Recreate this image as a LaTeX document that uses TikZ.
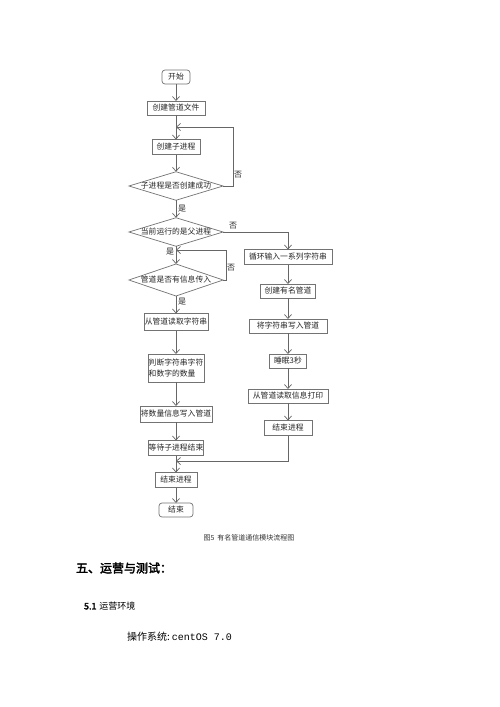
\documentclass[tikz,border=0pt]{standalone}
\usepackage{fontspec}
\setmainfont{Liberation Serif}
\newfontfamily\cjk{Noto Sans CJK SC}[AutoFakeBold=2.5]
\newfontfamily\monof{Liberation Mono}
\usetikzlibrary{arrows.meta,shapes.geometric}
\begin{document}
\begin{tikzpicture}[x=1pt,y=-1pt,
  every node/.style={inner sep=0pt,outer sep=0pt},
  proc/.style={draw=black!55,line width=0.7pt,fill=white,minimum height=15pt,align=center,font=\cjk\fontsize{7.8}{11}\selectfont,text=black!85},
  term/.style={proc,rounded corners=3pt},
  dec/.style={draw=black!55,line width=0.7pt,diamond,aspect=3.3,inner sep=0pt,font=\cjk\fontsize{7.8}{9}\selectfont,text=black!85},
  flow/.style={draw=black!60,line width=0.7pt,-{Straight Barb[length=4pt,width=7pt]}},
  lbl/.style={font=\cjk\fontsize{8}{9}\selectfont,text=black!85}]
\path[use as bounding box,fill=white] (0,0) rectangle (500,707);

% main column
\node[term,minimum width=28pt,minimum height=14pt] (start) at (176,77) {开始};
\node[proc,minimum width=58pt,minimum height=14pt] (b1) at (176,108) {创建管道文件};
\node[proc,minimum width=48pt] (b2) at (176,147) {创建子进程};
\node[dec,minimum width=86pt,minimum height=26pt] (d1) at (176,186) {子进程是否创建成功};
\node[dec,minimum width=86pt,minimum height=26pt] (d2) at (176,232) {当前运行的是父进程};
\node[dec,minimum width=80pt,minimum height=32pt] (d3) at (176,280) {管道是否有信息传入};
\node[proc,minimum width=64pt,minimum height=17pt] (b3) at (176,322) {从管道读取字符串};
\node[proc,minimum width=56pt,minimum height=28pt,align=left] (b4) at (176,368) {判断字符串字符\\和数字的数量};
\node[proc,minimum width=72pt,minimum height=16pt] (b5) at (176,414) {将数量信息写入管道};
\node[proc,minimum width=54pt] (b6) at (176,448) {等待子进程结束};
\node[proc,minimum width=42pt] (b7) at (176,480) {结束进程};
\node[term,minimum width=34pt,minimum height=14pt] (end) at (176,510) {结束};

% right column
\node[proc,minimum width=88pt] (r1) at (288,257) {循环输入一系列字符串};
\node[proc,minimum width=55pt,minimum height=14pt] (r2) at (288,291) {创建有名管道};
\node[proc,minimum width=78pt,minimum height=14pt] (r3) at (288,326) {将字符串写入管道};
\node[proc,minimum width=37pt,minimum height=14pt] (r4) at (288,361) {睡眠3秒};
\node[proc,minimum width=80pt,minimum height=14pt] (r5) at (288,396) {从管道读取信息打印};
\node[proc,minimum width=48pt] (r6) at (288,428) {结束进程};

% coordinates for joins
\coordinate (j1) at (176,127);
\coordinate (j3) at (176,250);
\coordinate (j6) at (176,461);

% main arrows
\draw[flow] (start) -- (b1);
\draw[flow] (b1) -- (b2);
\draw[flow] (b2) -- (d1);
\draw[flow] (d1) -- (d2);
\draw[flow] (d2) -- (d3);
\draw[flow] (d3) -- (b3);
\draw[flow] (b3) -- (b4);
\draw[flow] (b4) -- (b5);
\draw[flow] (b5) -- (b6);
\draw[flow] (b6) -- (b7);
\draw[flow] (b7) -- (end);

% loops
\draw[flow] (d1.east) -- (233,186) -- (233,127) -- (j1);
\draw[flow] (d2.east) -- (288,232) -- (r1.north);
\draw[flow] (d3.east) -- (226,280) -- (226,250) -- (j3);

% right column arrows
\draw[flow] (r1) -- (r2);
\draw[flow] (r2) -- (r3);
\draw[flow] (r3) -- (r4);
\draw[flow] (r4) -- (r5);
\draw[flow] (r5) -- (r6);
\draw[flow] (r6.south) -- (288,461) -- (j6);

% labels
\node[lbl] (n1) at (238,175) {否};
\node[lbl] (y1) at (182,209) {是};
\node[lbl] (n2) at (233,226) {否};
\node[lbl] (y2) at (170,252) {是};
\node[lbl] (n3) at (231,268) {否};
\node[lbl] (y3) at (182,302) {是};

% text below
\node[font=\cjk\fontsize{7}{8}\selectfont,text=black!80] (cap) at (249,538) {图5\hspace{3pt}有名管道通信模块流程图};
\node[anchor=west,font=\cjk\bfseries\fontsize{12}{14}\selectfont] (h1) at (76,568) {五、运营与测试：};
\node[anchor=west,font=\cjk\fontsize{9}{11}\selectfont] (h2) at (84,606) {\textbf{5.1}\hspace{3pt}运营环境};
\node[anchor=west,font=\fontsize{10}{12}\selectfont] (os) at (127,637) {{\cjk 操作系统:}\hspace{2pt}{\monof centOS 7.0}};
\end{tikzpicture}
\end{document}
